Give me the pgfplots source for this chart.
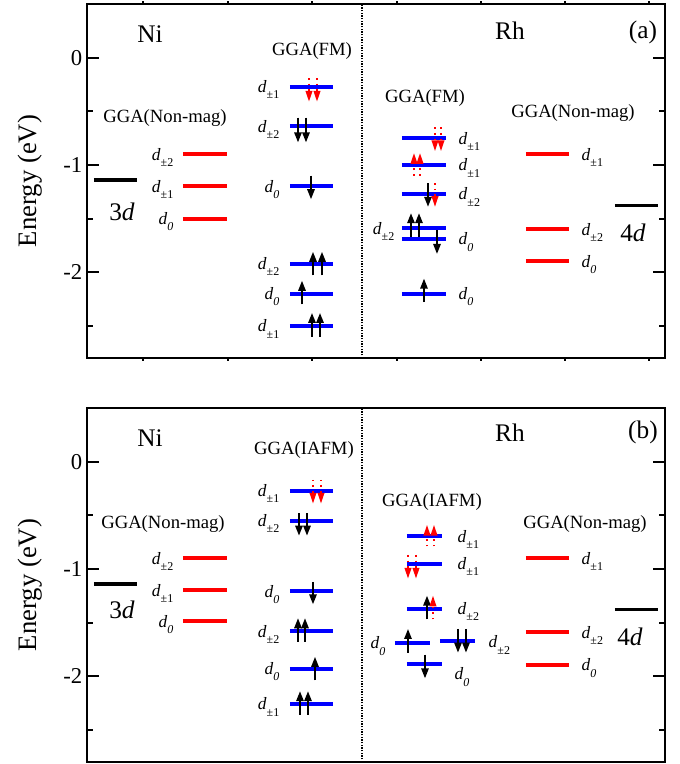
\documentclass[border=0pt]{standalone}
\usepackage{pgfplots}
\pgfplotsset{compat=1.18}
\usepackage{fontspec}
\setmainfont{Liberation Serif}
\usetikzlibrary{arrows.meta}

\newcommand{\dd}[1]{\fontsize{13pt}{13pt}\selectfont\textit{d}\raisebox{-0.8ex}{\fontsize{9pt}{9pt}\selectfont #1}}
\newcommand{\bigf}{\fontsize{19pt}{19pt}\selectfont}
\newcommand{\gga}{\fontsize{14pt}{14pt}\selectfont}

\pgfplotsset{
  panel/.style={
    scale only axis, width=433.5pt, height=265.5pt,
    xmin=87, xmax=665, ymin=-2.8, ymax=0.5,
    ytick={-2,-1,0}, yticklabels={-2,-1,0},
    minor ytick={-2.5,-1.5,-0.5},
    xtick=\empty,
    tick align=inside,
    major tick length=9pt, minor tick length=4.5pt,
    axis line style={line width=1.8pt},
    every tick/.style={black, line width=1.5pt},
    tick label style={font=\fontsize{17pt}{17pt}\selectfont},
    ylabel={Energy (eV)},
    ylabel style={font=\fontsize{20pt}{20pt}\selectfont, yshift=9pt},
    unbounded coords=jump,
    clip=false,
  },
  blk/.style={black, line width=2.6pt},
  redl/.style={red, line width=3pt},
  bluel/.style={blue, line width=3pt},
  upa/.style={black, line width=1.4pt, -{Triangle[width=5.5pt,length=7.5pt]}, quiver={u=0,v=\thisrow{v}}},
  rda/.style={red, line width=1.2pt, dash pattern=on 1.2pt off 3pt, -{Triangle[width=5pt,length=8pt]}, quiver={u=0,v=\thisrow{v}}},
}

\begin{document}
\begin{tikzpicture}
\path (0,0) rectangle (510pt,-573pt);

% ---------------- panel (a) ----------------
\begin{axis}[panel, at={(65.25pt,-3pt)}, anchor=north west]
\addplot[black, line width=1pt, densely dotted] coordinates {(362,-2.8)(362,0.5)};
\pgfplotsinvokeforeach{143,228,312,397,481,565,649}{
  \draw[line width=1.2pt] (axis cs:#1,-2.8) -- (axis cs:#1,-2.83);
  \draw[line width=1.2pt] (axis cs:#1,0.5) -- (axis cs:#1,0.53);
}
% Ni
\addplot[blk] coordinates {(94,-1.14)(137,-1.14)};
\addplot[redl] coordinates {(183,-0.90)(227,-0.90) (nan,nan) (183,-1.20)(227,-1.20) (nan,nan) (183,-1.50)(227,-1.50)};
\addplot[bluel] coordinates {(290,-0.27)(333,-0.27) (nan,nan) (290,-0.64)(333,-0.64) (nan,nan) (290,-1.20)(333,-1.20)
  (nan,nan) (290,-1.92)(333,-1.92) (nan,nan) (290,-2.20)(333,-2.20) (nan,nan) (290,-2.50)(333,-2.50)};
% Rh
\addplot[bluel] coordinates {(402,-0.75)(446,-0.75) (nan,nan) (402,-1.00)(446,-1.00) (nan,nan) (402,-1.27)(446,-1.27)
  (nan,nan) (402,-1.59)(446,-1.59) (nan,nan) (402,-1.69)(446,-1.69) (nan,nan) (402,-2.20)(446,-2.20)};
\addplot[redl] coordinates {(526,-0.90)(569,-0.90) (nan,nan) (526,-1.60)(569,-1.60) (nan,nan) (526,-1.90)(569,-1.90)};
\addplot[blk] coordinates {(615,-1.38)(658,-1.38)};
% spins
\addplot[upa] table[x=x,y=y] {
x y v
298 -0.56 -0.23
306 -0.56 -0.23
311 -1.10 -0.22
313 -2.03 0.22
322 -2.03 0.22
302 -2.30 0.22
312 -2.60 0.22
320 -2.60 0.22
428 -1.17 -0.22
411 -1.67 0.22
419 -1.67 0.22
437 -1.61 -0.22
424 -2.28 0.22
};
\addplot[rda] table[x=x,y=y] {
x y v
309 -0.19 -0.22
317 -0.19 -0.22
435 -0.65 -0.22
441 -0.65 -0.22
414 -1.10 0.21
420 -1.10 0.21
435 -1.17 -0.22
};
% text
\node[font=\bigf] at (axis cs:150,0.223) {Ni};
\node[font=\bigf] at (axis cs:510,0.25) {Rh};
\node[font=\bigf] at (axis cs:643,0.233) {(a)};
\node[font=\bigf] at (axis cs:122,-1.44) {3\textit{d}};
\node[font=\bigf] at (axis cs:633,-1.63) {4\textit{d}};
\node[font=\gga] at (axis cs:165,-0.56) {GGA(Non-mag)};
\node[font=\gga] at (axis cs:312,0.065) {GGA(FM)};
\node[font=\gga] at (axis cs:425,-0.372) {GGA(FM)};
\node[font=\gga] at (axis cs:573,-0.52) {GGA(Non-mag)};
\node[anchor=base east] at (axis cs:178,-0.955) {\dd{±2}};
\node[anchor=base east] at (axis cs:178,-1.255) {\dd{±1}};
\node[anchor=base east] at (axis cs:178,-1.555) {\dd{\textit{0}}};
\node[anchor=base east] at (axis cs:284,-0.325) {\dd{±1}};
\node[anchor=base east] at (axis cs:284,-0.695) {\dd{±2}};
\node[anchor=base east] at (axis cs:284,-1.255) {\dd{\textit{0}}};
\node[anchor=base east] at (axis cs:284,-1.975) {\dd{±2}};
\node[anchor=base east] at (axis cs:284,-2.255) {\dd{\textit{0}}};
\node[anchor=base east] at (axis cs:284,-2.555) {\dd{±1}};
\node[anchor=base west] at (axis cs:454,-0.805) {\dd{±1}};
\node[anchor=base west] at (axis cs:454,-1.055) {\dd{±1}};
\node[anchor=base west] at (axis cs:454,-1.325) {\dd{±2}};
\node[anchor=base east] at (axis cs:399,-1.645) {\dd{±2}};
\node[anchor=base west] at (axis cs:454,-1.745) {\dd{\textit{0}}};
\node[anchor=base west] at (axis cs:454,-2.255) {\dd{\textit{0}}};
\node[anchor=base west] at (axis cs:577,-0.955) {\dd{±1}};
\node[anchor=base west] at (axis cs:577,-1.655) {\dd{±2}};
\node[anchor=base west] at (axis cs:577,-1.955) {\dd{\textit{0}}};
\end{axis}

% ---------------- panel (b) ----------------
\begin{axis}[panel, at={(65.25pt,-306pt)}, anchor=north west]
\addplot[black, line width=1pt, densely dotted] coordinates {(362,-2.8)(362,0.5)};
% Ni
\addplot[blk] coordinates {(94,-1.14)(137,-1.14)};
\addplot[redl] coordinates {(183,-0.90)(227,-0.90) (nan,nan) (183,-1.20)(227,-1.20) (nan,nan) (183,-1.49)(227,-1.49)};
\addplot[bluel] coordinates {(290,-0.27)(333,-0.27) (nan,nan) (290,-0.55)(333,-0.55) (nan,nan) (290,-1.21)(333,-1.21)
  (nan,nan) (290,-1.58)(333,-1.58) (nan,nan) (290,-1.93)(333,-1.93) (nan,nan) (290,-2.26)(333,-2.26)};
% Rh
\addplot[bluel] coordinates {(407,-0.695)(442,-0.695) (nan,nan) (407,-0.95)(442,-0.95) (nan,nan) (407,-1.37)(442,-1.37)
  (nan,nan) (395,-1.69)(430,-1.69) (nan,nan) (440,-1.67)(475,-1.67) (nan,nan) (407,-1.89)(442,-1.89)};
\addplot[redl] coordinates {(526,-0.90)(569,-0.90) (nan,nan) (526,-1.59)(569,-1.59) (nan,nan) (526,-1.895)(569,-1.895)};
\addplot[blk] coordinates {(615,-1.38)(658,-1.38)};
% spins
\addplot[upa] table[x=x,y=y] {
x y v
299 -0.48 -0.21
307 -0.48 -0.21
313 -1.12 -0.21
298 -1.68 0.22
305 -1.68 0.22
315 -2.04 0.22
300 -2.36 0.22
308 -2.36 0.22
427 -1.47 0.22
408 -1.78 0.22
458 -1.56 -0.22
466 -1.56 -0.22
425 -1.80 -0.22
};
\addplot[rda] table[x=x,y=y] {
x y v
313 -0.17 -0.22
321 -0.17 -0.22
427 -0.79 0.20
434 -0.79 0.20
408 -0.87 -0.22
416 -0.87 -0.22
433 -1.47 0.22
};
% text
\node[font=\bigf] at (axis cs:150,0.223) {Ni};
\node[font=\bigf] at (axis cs:510,0.27) {Rh};
\node[font=\bigf] at (axis cs:643,0.27) {(b)};
\node[font=\bigf] at (axis cs:122,-1.377) {3\textit{d}};
\node[font=\bigf] at (axis cs:630,-1.63) {4\textit{d}};
\node[font=\gga] at (axis cs:163,-0.586) {GGA(Non-mag)};
\node[font=\gga] at (axis cs:304,0.11) {GGA(IAFM)};
\node[font=\gga] at (axis cs:432,-0.372) {GGA(IAFM)};
\node[font=\gga] at (axis cs:585,-0.586) {GGA(Non-mag)};
\node[anchor=base east] at (axis cs:178,-0.955) {\dd{±2}};
\node[anchor=base east] at (axis cs:178,-1.255) {\dd{±1}};
\node[anchor=base east] at (axis cs:178,-1.545) {\dd{\textit{0}}};
\node[anchor=base east] at (axis cs:284,-0.325) {\dd{±1}};
\node[anchor=base east] at (axis cs:284,-0.605) {\dd{±2}};
\node[anchor=base east] at (axis cs:284,-1.265) {\dd{\textit{0}}};
\node[anchor=base east] at (axis cs:284,-1.635) {\dd{±2}};
\node[anchor=base east] at (axis cs:284,-1.985) {\dd{\textit{0}}};
\node[anchor=base east] at (axis cs:284,-2.315) {\dd{±1}};
\node[anchor=base west] at (axis cs:453,-0.75) {\dd{±1}};
\node[anchor=base west] at (axis cs:453,-1.005) {\dd{±1}};
\node[anchor=base west] at (axis cs:453,-1.425) {\dd{±2}};
\node[anchor=base east] at (axis cs:390,-1.745) {\dd{\textit{0}}};
\node[anchor=base west] at (axis cs:484,-1.735) {\dd{±2}};
\node[anchor=base west] at (axis cs:450,-2.035) {\dd{\textit{0}}};
\node[anchor=base west] at (axis cs:577,-0.955) {\dd{±1}};
\node[anchor=base west] at (axis cs:577,-1.645) {\dd{±2}};
\node[anchor=base west] at (axis cs:577,-1.95) {\dd{\textit{0}}};
\end{axis}
\end{tikzpicture}
\end{document}
